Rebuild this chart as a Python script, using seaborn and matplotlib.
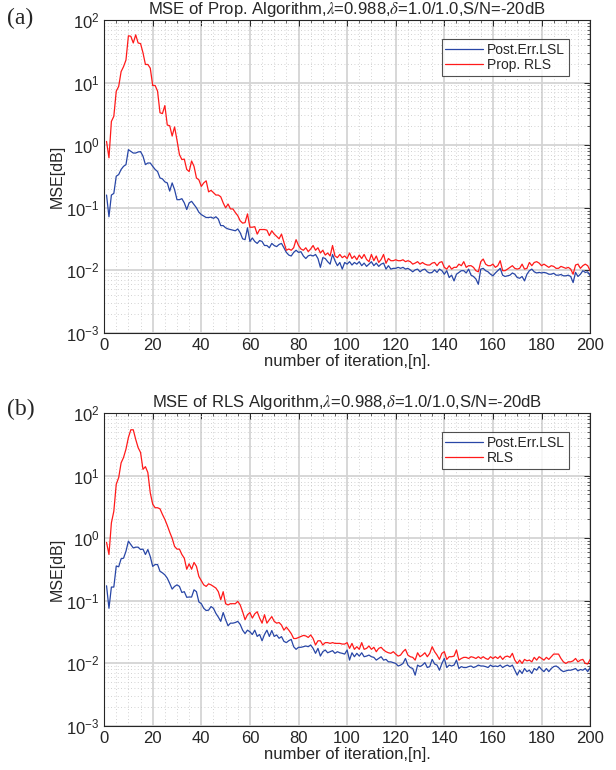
import numpy as np
import pandas as pd
import matplotlib
matplotlib.use("Agg")
import matplotlib.pyplot as plt
import matplotlib.ticker as mticker
import seaborn as sns

# iteration index
n_iter = list(range(1, 201))

# (a) MSE of Prop. Algorithm
a_lsl = [0.16, 0.072, 0.16, 0.17, 0.32, 0.34, 0.41, 0.46, 0.49, 0.85,
         0.80, 0.75, 0.75, 0.78, 0.79, 0.67, 0.49, 0.52, 0.52, 0.46,
         0.41, 0.38, 0.30, 0.29, 0.26, 0.25, 0.185, 0.25, 0.195, 0.135,
         0.135, 0.14, 0.12, 0.094, 0.12, 0.127, 0.113, 0.10, 0.085, 0.078,
         0.074, 0.07, 0.07, 0.071, 0.068, 0.072, 0.066, 0.052, 0.052, 0.048,
         0.046, 0.045, 0.044, 0.043, 0.046, 0.04, 0.032, 0.031, 0.048, 0.029,
         0.033, 0.029, 0.027, 0.03, 0.029, 0.025, 0.025, 0.023, 0.027, 0.025,
         0.024, 0.026, 0.027, 0.023, 0.0194, 0.0176, 0.017, 0.0194, 0.021, 0.0194,
         0.0199, 0.017, 0.0155, 0.0171, 0.0176, 0.017, 0.018, 0.0155, 0.0112, 0.016,
         0.0155, 0.0138, 0.0126, 0.018, 0.0143, 0.0119, 0.0134, 0.0105, 0.0134, 0.0126,
         0.0138, 0.0122, 0.0134, 0.0126, 0.0138, 0.0119, 0.0131, 0.0116, 0.0126, 0.0138,
         0.0119, 0.0131, 0.0116, 0.0126, 0.0131, 0.0105, 0.0119, 0.0105, 0.0108, 0.0108,
         0.0112, 0.0108, 0.0112, 0.0105, 0.0108, 0.0102, 0.0095, 0.0102, 0.0105, 0.0095,
         0.0102, 0.0105, 0.0095, 0.0091, 0.0093, 0.0102, 0.0093, 0.0105, 0.0099, 0.0087,
         0.0099, 0.0077, 0.0084, 0.0068, 0.0087, 0.0093, 0.0099, 0.0099, 0.0091, 0.0105,
         0.0084, 0.008, 0.0073, 0.006, 0.0105, 0.0108, 0.0099, 0.0095, 0.0087, 0.0082,
         0.0091, 0.0099, 0.0108, 0.0084, 0.008, 0.0082, 0.0084, 0.0091, 0.0087, 0.0077,
         0.0075, 0.008, 0.0068, 0.0087, 0.0099, 0.0105, 0.0095, 0.0091, 0.0093, 0.0091,
         0.0093, 0.0091, 0.0087, 0.0087, 0.009, 0.0084, 0.0084, 0.0086, 0.0082, 0.0082,
         0.0084, 0.008, 0.0064, 0.0093, 0.008, 0.0087, 0.0099, 0.0093, 0.0095, 0.0082]
a_rls = [1.15, 0.63, 2.4, 2.9, 7.3, 8.7, 15, 18, 23, 56,
         55, 43, 58, 43, 42, 30, 19.5, 19.5, 17, 9,
         9, 7.3, 3.3, 3.2, 4.3, 2.1, 2.05, 1.4, 1.96, 1.2,
         0.71, 0.59, 0.6, 0.41, 0.38, 0.56, 0.46, 0.30, 0.28, 0.22,
         0.25, 0.27, 0.18, 0.19, 0.175, 0.16, 0.16, 0.15, 0.12, 0.10,
         0.115, 0.096, 0.096, 0.084, 0.075, 0.062, 0.057, 0.058, 0.08, 0.049,
         0.049, 0.05, 0.038, 0.045, 0.045, 0.045, 0.044, 0.036, 0.043, 0.038,
         0.035, 0.032, 0.038, 0.028, 0.021, 0.022, 0.021, 0.023, 0.031, 0.025,
         0.022, 0.021, 0.023, 0.020, 0.022, 0.025, 0.021, 0.023, 0.019, 0.021,
         0.0176, 0.019, 0.017, 0.025, 0.017, 0.016, 0.018, 0.016, 0.017, 0.0155,
         0.019, 0.0155, 0.017, 0.0148, 0.0176, 0.0155, 0.018, 0.015, 0.0138, 0.018,
         0.0143, 0.017, 0.0134, 0.015, 0.018, 0.013, 0.0155, 0.0143, 0.0143, 0.0148,
         0.0143, 0.0143, 0.0148, 0.0138, 0.0143, 0.0138, 0.0126, 0.0131, 0.0138, 0.0126,
         0.0134, 0.0126, 0.0122, 0.0122, 0.0131, 0.0134, 0.0119, 0.0134, 0.0138, 0.0112,
         0.0105, 0.0119, 0.0105, 0.0112, 0.0112, 0.0126, 0.0119, 0.0138, 0.0112, 0.0119,
         0.0119, 0.0112, 0.0099, 0.0095, 0.0138, 0.0152, 0.0126, 0.0119, 0.0119, 0.0126,
         0.0112, 0.0119, 0.0143, 0.0099, 0.0099, 0.0105, 0.0112, 0.0119, 0.0108, 0.0105,
         0.0108, 0.0126, 0.0105, 0.0108, 0.0134, 0.0119, 0.0134, 0.0138, 0.0131, 0.0119,
         0.0126, 0.0119, 0.0112, 0.0119, 0.0116, 0.0108, 0.0108, 0.0116, 0.0112, 0.0108,
         0.0112, 0.0105, 0.0087, 0.0122, 0.0126, 0.0108, 0.0119, 0.0126, 0.0119, 0.0099]

# (b) MSE of RLS Algorithm
b_lsl = [0.174, 0.076, 0.166, 0.166, 0.36, 0.35, 0.47, 0.48, 0.62, 0.9,
         0.79, 0.70, 0.72, 0.72, 0.66, 0.67, 0.55, 0.66, 0.51, 0.355,
         0.38, 0.38, 0.296, 0.28, 0.26, 0.23, 0.19, 0.154, 0.17, 0.18,
         0.17, 0.136, 0.14, 0.114, 0.115, 0.115, 0.15, 0.14, 0.096, 0.09,
         0.076, 0.07, 0.071, 0.081, 0.076, 0.063, 0.055, 0.047, 0.065, 0.05,
         0.04, 0.044, 0.044, 0.045, 0.047, 0.042, 0.034, 0.03, 0.034, 0.032,
         0.029, 0.034, 0.027, 0.029, 0.023, 0.029, 0.034, 0.027, 0.0335, 0.027,
         0.0285, 0.0252, 0.0268, 0.0225, 0.0215, 0.0231, 0.0242, 0.0185, 0.0168, 0.0181,
         0.0181, 0.0185, 0.019, 0.0185, 0.0197, 0.0174, 0.0145, 0.0174, 0.0131, 0.0154,
         0.0164, 0.0148, 0.0154, 0.016, 0.0145, 0.0154, 0.0148, 0.0145, 0.0141, 0.0164,
         0.0113, 0.0148, 0.0128, 0.0145, 0.0131, 0.0148, 0.0128, 0.0131, 0.0136, 0.0128,
         0.0125, 0.0113, 0.012, 0.0128, 0.0113, 0.0116, 0.0106, 0.0106, 0.0103, 0.01,
         0.0091, 0.0094, 0.01, 0.012, 0.0094, 0.0086, 0.0083, 0.0065, 0.0094, 0.0089,
         0.0094, 0.0103, 0.0086, 0.0089, 0.0116, 0.0098, 0.0094, 0.0078, 0.01, 0.012,
         0.0086, 0.0094, 0.0091, 0.0094, 0.0113, 0.0083, 0.0089, 0.0086, 0.0086, 0.0089,
         0.0091, 0.0086, 0.0089, 0.0094, 0.0091, 0.0091, 0.0089, 0.0086, 0.0094, 0.0089,
         0.0091, 0.0089, 0.0094, 0.0086, 0.0091, 0.0094, 0.0089, 0.0094, 0.0078, 0.0065,
         0.0078, 0.0069, 0.0083, 0.0074, 0.0078, 0.0069, 0.0083, 0.0078, 0.0089, 0.008,
         0.0074, 0.0083, 0.0074, 0.0083, 0.0089, 0.0091, 0.0086, 0.0078, 0.0074, 0.0076,
         0.0078, 0.0078, 0.008, 0.0083, 0.0076, 0.008, 0.0078, 0.0083, 0.0074, 0.0086]
b_rls = [0.86, 0.55, 1.76, 2.7, 7.3, 9.3, 16, 19.5, 26.5, 40.7,
         54, 54, 38, 28, 23.4, 12.6, 13.9, 11.2, 5.3, 3.5,
         3.07, 3.07, 2.95, 2.4, 2.0, 1.6, 1.25, 1.0, 0.74, 0.67,
         0.67, 0.55, 0.48, 0.32, 0.39, 0.32, 0.41, 0.355, 0.245, 0.21,
         0.18, 0.17, 0.187, 0.18, 0.17, 0.16, 0.14, 0.104, 0.14, 0.09,
         0.086, 0.09, 0.09, 0.09, 0.098, 0.086, 0.067, 0.05, 0.06, 0.065,
         0.053, 0.062, 0.067, 0.053, 0.044, 0.06, 0.044, 0.05, 0.056, 0.047,
         0.044, 0.045, 0.041, 0.034, 0.038, 0.034, 0.030, 0.025, 0.025, 0.026,
         0.027, 0.028, 0.0275, 0.026, 0.0285, 0.025, 0.0197, 0.023, 0.023, 0.0197,
         0.0215, 0.0215, 0.0209, 0.0215, 0.0209, 0.0209, 0.0209, 0.0204, 0.0204, 0.0215,
         0.0174, 0.0209, 0.0168, 0.0185, 0.0168, 0.0215, 0.0168, 0.0174, 0.019, 0.0168,
         0.0181, 0.0154, 0.0174, 0.0181, 0.0164, 0.0154, 0.0148, 0.0145, 0.0154, 0.0141,
         0.0131, 0.0136, 0.0154, 0.0168, 0.0136, 0.0128, 0.0125, 0.0113, 0.0148, 0.0128,
         0.0136, 0.0148, 0.0128, 0.0145, 0.0185, 0.0154, 0.0136, 0.0116, 0.0145, 0.0154,
         0.0116, 0.0128, 0.0128, 0.0131, 0.0164, 0.0113, 0.012, 0.0125, 0.0125, 0.012,
         0.0128, 0.0125, 0.012, 0.0128, 0.012, 0.0128, 0.012, 0.0116, 0.0128, 0.012,
         0.0128, 0.012, 0.0131, 0.0116, 0.0128, 0.0131, 0.0125, 0.0145, 0.0113, 0.01,
         0.0113, 0.01, 0.0116, 0.011, 0.0113, 0.0106, 0.0125, 0.0113, 0.0128, 0.012,
         0.0113, 0.0125, 0.0116, 0.0128, 0.0141, 0.0141, 0.0141, 0.012, 0.0106, 0.01,
         0.0106, 0.0106, 0.011, 0.012, 0.0106, 0.0113, 0.0116, 0.01, 0.0098, 0.0116]

panels = [
    ('(a)', r'MSE of Prop. Algorithm,$\lambda$=0.988,$\delta$=1.0/1.0,S/N=-20dB',
     a_lsl, a_rls, 'Prop. RLS'),
    ('(b)', r'MSE of RLS Algorithm,$\lambda$=0.988,$\delta$=1.0/1.0,S/N=-20dB',
     b_lsl, b_rls, 'RLS'),
]

sns.set_theme(style="white")
plt.rcParams['font.family'] = ['Liberation Sans', 'DejaVu Sans']
plt.rcParams['mathtext.fontset'] = 'stix'

fig = plt.figure(figsize=(6.16, 7.7), dpi=100)
ax_pos = [[0.169, 0.5675, 0.789, 0.4065], [0.169, 0.0571, 0.789, 0.4065]]
label_y = [0.99, 0.482]

for i, (tag, title, lsl, rls, rls_name) in enumerate(panels):
    ax = fig.add_axes(ax_pos[i])
    df = pd.DataFrame({'n': n_iter * 2,
                       'mse': lsl + rls,
                       'series': ['Post.Err.LSL'] * 200 + [rls_name] * 200})
    sns.lineplot(data=df, x='n', y='mse', hue='series', ax=ax,
                 palette={'Post.Err.LSL': '#2846a6', rls_name: '#ff1a1a'},
                 linewidth=0.9, sort=False)
    ax.set_yscale('log')
    ax.set_xlim(0, 200)
    ax.set_ylim(1e-3, 1e2)
    ax.set_xticks(range(0, 201, 20))
    ax.xaxis.set_minor_locator(mticker.MultipleLocator(5))
    ax.yaxis.set_major_locator(mticker.LogLocator(base=10, numticks=10))
    ax.yaxis.set_minor_locator(mticker.LogLocator(base=10, subs=np.arange(2, 10), numticks=20))
    ax.yaxis.set_minor_formatter(mticker.NullFormatter())
    ax.grid(True, which='major', color='#d4d4d4', linewidth=1.3)
    ax.grid(True, which='minor', color='#c4c4c4', linestyle=(0, (1, 3)), linewidth=0.6)
    ax.set_axisbelow(True)
    ax.tick_params(which='both', direction='in', top=True, right=True,
                   labelsize=12, colors='#262626')
    ax.tick_params(which='major', length=4, width=0.7)
    ax.tick_params(which='minor', length=2, width=0.5)
    for s in ax.spines.values():
        s.set_color('#262626')
        s.set_linewidth(0.8)
    ax.set_title(title, fontsize=12, pad=4)
    ax.set_xlabel('number of iteration,[n].', fontsize=12, labelpad=1)
    ax.set_ylabel('MSE[dB]', fontsize=11.5, labelpad=1)
    leg = ax.legend(loc='upper right', bbox_to_anchor=(0.97, 0.96),
                    fontsize=10, frameon=True, fancybox=False,
                    edgecolor='#262626', handlelength=2.7, borderpad=0.25,
                    labelspacing=0.1, handletextpad=0.3)
    leg.get_frame().set_linewidth(0.8)
    fig.text(0.012, label_y[i], tag, family=['Liberation Serif', 'DejaVu Serif'],
             fontsize=17, va='top', ha='left')

fig.savefig('out.png', dpi=100)
